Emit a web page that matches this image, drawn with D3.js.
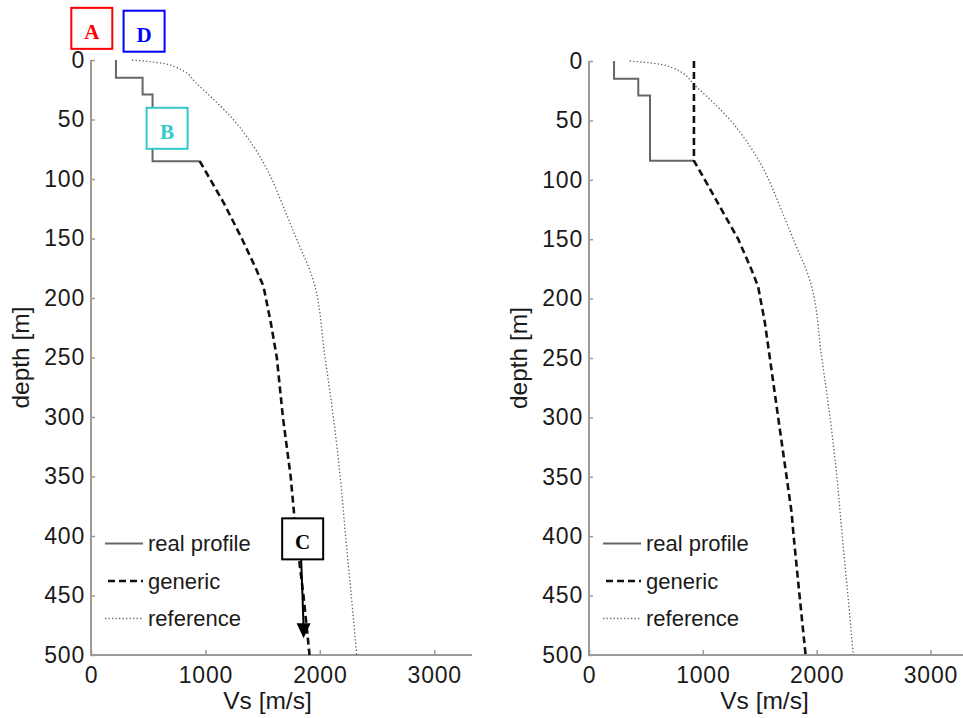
<!DOCTYPE html>
<html><head><meta charset="utf-8">
<script src="https://cdn.jsdelivr.net/npm/d3@7"></script>
<style>
html,body{margin:0;padding:0;background:#fff;}
svg{display:block;}
</style></head>
<body>
<script>
// ---------- data ----------
const depthTicks = [0,50,100,150,200,250,300,350,400,450,500];
const vsTicks = [0,1000,2000,3000];
const legendLabels = ["real profile","generic","reference"];

// left panel
const realDepthL = [0,15,15,29,29,85,85];
const realVsL    = [218,218,451,451,538,538,950];
const genDepthL  = [85,100,120,150,175,190,220,250,300,350,400,450,500];
const genVsL     = [950,1040,1160,1318,1440,1507,1570,1624,1677,1745,1793,1857,1910];

// right panel
const realDepthR = [0,15,15,29,29,84,84];
const realVsR    = [220,220,433,433,536,536,922];
const genDepthR  = [0,84,100,120,150,175,190,220,250,300,350,380,400,450,500];
const genVsR     = [922,922,1018,1135,1311,1425,1486,1545,1589,1662,1736,1780,1798,1850,1903];

// reference profile (both panels)
const refDepth = [0,1,3,6,10,19,33,48,72,100,116,150,185,250,300,350,400,450,500];
const refVs    = [358,480,640,740,822,915,1070,1225,1416,1580,1650,1795,1942,2045,2118,2178,2225,2275,2322];

// annotation labels (left panel), positioned in data units
const annLabels = ["A","D","B","C"];
const annVs     = [7,464,665,1850];
const annDepth  = [-26.6,-24.2,57.4,402.4];
const annColors = ["#ff0000","#0000ff","#33c9c9","#000000"];
const arrowTipVs = 1858, arrowTipDepth = 486;

// ---------- drawing ----------
const W = 963, H = 718;
const svg = d3.select("body").append("svg").attr("width",W).attr("height",H);
svg.append("rect").attr("width",W).attr("height",H).attr("fill","#fff");

const panels = [
  {x0:91, x1:472, y0:60, y1:655, realD:realDepthL, realV:realVsL, genD:genDepthL, genV:genVsL},
  {x0:589, x1:968, y0:61, y1:655, realD:realDepthR, realV:realVsR, genD:genDepthR, genV:genVsR}
];

const FONT = "Arial, 'Liberation Sans', Helvetica, sans-serif";

panels.forEach((p,pi) => {
  const x = d3.scaleLinear().domain([0,3330]).range([p.x0,p.x1]);
  const y = d3.scaleLinear().domain([0,500]).range([p.y0,p.y1]);
  p.x = x; p.y = y;
  const g = svg.append("g");

  // axes
  const ya = g.append("g").attr("transform",`translate(${p.x0},0)`)
    .call(d3.axisLeft(y).tickValues(depthTicks).tickFormat(d3.format("d"))
      .tickSizeInner(-4).tickSizeOuter(0).tickPadding(6));
  const xa = g.append("g").attr("transform",`translate(0,${p.y1})`)
    .call(d3.axisBottom(x).tickValues(vsTicks).tickFormat(d3.format("d"))
      .tickSizeInner(-5).tickSizeOuter(0).tickPadding(11.5));
  [ya,xa].forEach(a => {
    a.select(".domain").attr("stroke","#9a9a9a").attr("stroke-width",2);
    a.selectAll(".tick line").attr("stroke","#9a9a9a").attr("stroke-width",1.5);
    a.selectAll(".tick text").attr("fill","#1a1a1a").style("font-family",FONT)
      .style("font-size","23px").style("letter-spacing","0.8px");
  });
  ya.select(".domain").attr("d",`M0,${p.y0}V${p.y1+1}`);
  xa.select(".domain").attr("d",`M${p.x0-1},0H${p.x1}`);

  // axis titles
  g.append("text").attr("x",(p.x0+p.x1)/2 - 14).attr("y",709)
    .attr("text-anchor","middle").attr("fill","#1a1a1a")
    .style("font-family",FONT).style("font-size","24.5px").text("Vs [m/s]");
  g.append("text").attr("transform",`translate(${p.x0-62},${(p.y0+p.y1)/2})rotate(-90)`)
    .attr("text-anchor","middle").attr("fill","#1a1a1a")
    .style("font-family",FONT).style("font-size","24.5px").text("depth [m]");

  const line = d3.line().x(d=>x(d[1])).y(d=>y(d[0]));
  const ref = refDepth.map((d,i)=>[d,refVs[i]]);
  const real = p.realD.map((d,i)=>[d,p.realV[i]]);
  const gen = p.genD.map((d,i)=>[d,p.genV[i]]);

  g.append("path").attr("d",line.curve(d3.curveMonotoneY)(ref)).attr("fill","none")
    .attr("stroke","#5a5a5a").attr("stroke-width",1.3).attr("stroke-dasharray","1.3,2.2");
  g.append("path").attr("d",line.curve(d3.curveLinear)(real)).attr("fill","none")
    .attr("stroke","#666").attr("stroke-width",2);
  g.append("path").attr("d",line.curve(d3.curveLinear)(gen)).attr("fill","none")
    .attr("stroke","#111").attr("stroke-width",2.6).attr("stroke-dasharray","7,4");

  // legend
  const lx0 = p.x0 + 14, lx1 = p.x0 + 52, tx = p.x0 + 57;
  const ly = [543.5, 581, 618.5];
  const styles = [
    {c:"#666",w:2,d:null},
    {c:"#111",w:2.6,d:"7,4"},
    {c:"#6a6a6a",w:1.3,d:"1.3,2.2"}
  ];
  legendLabels.forEach((lab,i) => {
    const s = styles[i];
    const ln = g.append("line").attr("x1",lx0 + (i===1?3:0)).attr("x2",lx1).attr("y1",ly[i]).attr("y2",ly[i])
      .attr("stroke",s.c).attr("stroke-width",s.w);
    if (s.d) ln.attr("stroke-dasharray",s.d);
    g.append("text").attr("x",tx).attr("y",ly[i]+7.5).attr("fill","#1a1a1a")
      .style("font-family",FONT).style("font-size","22px").text(lab);
  });
});

// annotations on left panel
const L = panels[0];
const ann = svg.append("g");
const cx = L.x(annVs[3]), cy = L.y(annDepth[3]);
const tipX = L.x(arrowTipVs), tipY = L.y(arrowTipDepth);
ann.append("line").attr("x1",cx-1.5).attr("y1",cy+20).attr("x2",tipX).attr("y2",tipY-12)
  .attr("stroke","#000").attr("stroke-width",2);
ann.append("path").attr("d",`M${tipX-7},${tipY-15}L${tipX+7},${tipY-15}L${tipX},${tipY}Z`).attr("fill","#000");

annLabels.forEach((lab,i) => {
  const ax = L.x(annVs[i]), ay = L.y(annDepth[i]);
  const w = 41, h = 41;
  ann.append("rect").attr("x",ax-w/2).attr("y",ay-h/2).attr("width",w).attr("height",h)
    .attr("fill","#fff").attr("stroke",annColors[i]).attr("stroke-width",2);
  ann.append("text").attr("x",ax).attr("y",ay+10.5).attr("text-anchor","middle")
    .attr("fill",annColors[i]).style("font-family","'Times New Roman','Liberation Serif',serif")
    .style("font-weight","bold").style("font-size","21px").text(lab);
});
</script>
</body></html>
